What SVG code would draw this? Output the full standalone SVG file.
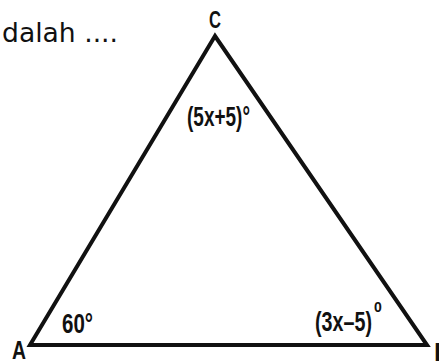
<svg xmlns="http://www.w3.org/2000/svg" width="439" height="364" viewBox="0 0 439 364">
<style>
.lbl{font-family:"Liberation Sans Narrow","Liberation Sans",Arial,sans-serif;font-weight:bold;fill:#111}
.txt{font-family:"DejaVu Sans","Verdana",sans-serif;fill:#111}
.edge{stroke:#111;stroke-width:4;fill:none;stroke-linejoin:miter;stroke-miterlimit:20}
</style>
<rect width="439" height="364" fill="#fff"/>
<text class="txt" x="2" y="42" font-size="27" textLength="116" lengthAdjust="spacingAndGlyphs">dalah ....</text>
<g id="connectors">
<polygon class="edge" points="215,36 30,345 427,345"/>
</g>
<g id="C"><text class="lbl" x="215" y="28" font-size="23" text-anchor="middle" textLength="12" lengthAdjust="spacingAndGlyphs">C</text></g>
<g id="A"><text class="lbl" x="12" y="359" font-size="26" textLength="14" lengthAdjust="spacingAndGlyphs">A</text></g>
<g id="B"><text class="lbl" x="434" y="361" font-size="26">B</text></g>
<g id="angleC"><text class="lbl" x="187" y="126" font-size="28" textLength="63" lengthAdjust="spacingAndGlyphs">(5x+5)°</text></g>
<g id="angleA"><text class="lbl" x="62" y="333" font-size="27" textLength="31" lengthAdjust="spacingAndGlyphs">60°</text></g>
<g id="angleB"><text class="lbl" x="315" y="331" font-size="28" textLength="57" lengthAdjust="spacingAndGlyphs">(3x–5)</text><text class="lbl" x="374" y="312" font-size="14">0</text></g>
</svg>
